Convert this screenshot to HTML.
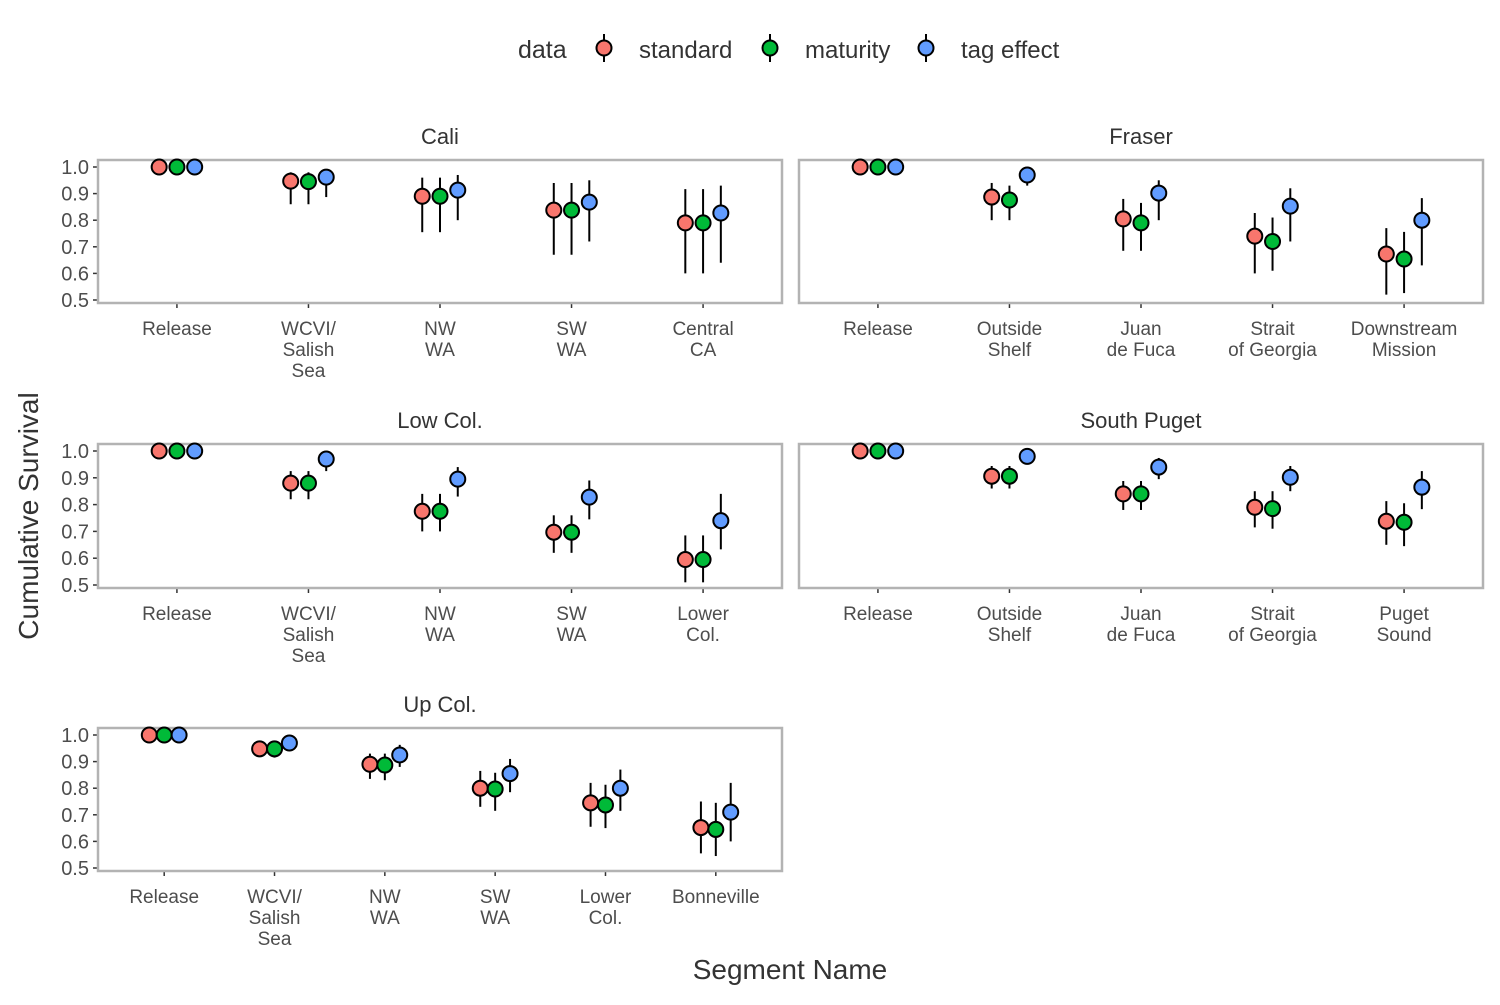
<!DOCTYPE html>
<html><head><meta charset="utf-8"><style>
body{margin:0;background:#fff;font-family:"Liberation Sans",sans-serif}
svg text{font-family:"Liberation Sans",sans-serif}
</style></head><body>
<svg id="chart" width="1500" height="1000" xmlns="http://www.w3.org/2000/svg"></svg>
<script>
const seriesNames = ["standard","maturity","tag effect"];
const seriesColors = ["#F8766D","#00BA38","#619CFF"];
const caliCats = ["Release","WCVI/\nSalish\nSea","NW\nWA","SW\nWA","Central\nCA"];
const caliVals = [[1,0.947,0.89,0.838,0.79],[1,0.945,0.89,0.838,0.79],[1,0.962,0.913,0.868,0.827]];
const caliLo = [[1,0.86,0.755,0.67,0.6],[1,0.86,0.755,0.67,0.6],[1,0.887,0.8,0.72,0.64]];
const caliHi = [[1,0.98,0.96,0.94,0.917],[1,0.98,0.96,0.94,0.917],[1,0.985,0.97,0.95,0.93]];
const fraserCats = ["Release","Outside\nShelf","Juan\nde Fuca","Strait\nof Georgia","Downstream\nMission"];
const fraserVals = [[1,0.887,0.805,0.74,0.673],[1,0.876,0.79,0.72,0.654],[1,0.97,0.902,0.853,0.8]];
const fraserLo = [[1,0.8,0.685,0.6,0.52],[1,0.8,0.685,0.61,0.526],[1,0.93,0.8,0.72,0.63]];
const fraserHi = [[1,0.94,0.88,0.827,0.77],[1,0.93,0.865,0.81,0.756],[1,0.996,0.95,0.92,0.883]];
const lowCats = ["Release","WCVI/\nSalish\nSea","NW\nWA","SW\nWA","Lower\nCol."];
const lowVals = [[1,0.88,0.775,0.697,0.595],[1,0.88,0.775,0.697,0.595],[1,0.97,0.895,0.828,0.74]];
const lowLo = [[1,0.82,0.7,0.62,0.51],[1,0.82,0.7,0.62,0.51],[1,0.925,0.83,0.745,0.633]];
const lowHi = [[1,0.925,0.84,0.76,0.685],[1,0.925,0.84,0.76,0.685],[1,0.996,0.94,0.89,0.84]];
const spCats = ["Release","Outside\nShelf","Juan\nde Fuca","Strait\nof Georgia","Puget\nSound"];
const spVals = [[1,0.906,0.84,0.79,0.738],[1,0.906,0.84,0.785,0.734],[1,0.98,0.94,0.902,0.865]];
const spLo = [[1,0.86,0.78,0.715,0.65],[1,0.86,0.78,0.71,0.645],[1,0.955,0.895,0.85,0.783]];
const spHi = [[1,0.944,0.888,0.85,0.813],[1,0.944,0.888,0.85,0.805],[1,1,0.974,0.944,0.925]];
const upCats = ["Release","WCVI/\nSalish\nSea","NW\nWA","SW\nWA","Lower\nCol.","Bonneville"];
const upVals = [[1,0.948,0.89,0.8,0.745,0.652],[1,0.948,0.887,0.797,0.737,0.645],[1,0.97,0.925,0.855,0.8,0.71]];
const upLo = [[1,0.918,0.835,0.73,0.655,0.555],[1,0.915,0.83,0.715,0.65,0.545],[1,0.948,0.88,0.785,0.715,0.6]];
const upHi = [[1,0.974,0.93,0.865,0.82,0.75],[1,0.974,0.93,0.858,0.813,0.745],[1,0.993,0.963,0.91,0.87,0.82]];
const yTicks = [0.5,0.6,0.7,0.8,0.9,1.0];

const NS="http://www.w3.org/2000/svg";
const svg=document.getElementById('chart');
function mk(tag,attrs,parent){const e=document.createElementNS(NS,tag);for(const k in attrs)e.setAttribute(k,attrs[k]);(parent||svg).appendChild(e);return e;}

function panel(name,title,cats,vals,lo,hi,x0,x1,y0,y1,showY){
  const g=mk('g',{});
  
  
  const t=mk('text',{x:(x0+x1)/2,y:y0-16,'text-anchor':'middle','font-size':22,fill:'#333'},g);
  t.textContent=title;
  
  
  const ytop=y0+7, ybot=y1-3;
  const ys=v=>ybot-(v-0.5)/0.5*(ybot-ytop);
  const n=cats.length, step=(x1-x0)/(n-1+1.2);
  const xs=i=>x0+step*(0.6+i);
  const dodge=step*0.135;
  if(showY){
    yTicks.forEach(v=>{
      mk('line',{x1:x0-5,x2:x0,y1:ys(v),y2:ys(v),stroke:'#333','stroke-width':1.5},g);
      const l=mk('text',{x:x0-9,y:ys(v)+7,'text-anchor':'end','font-size':20,fill:'#4d4d4d'},g);
      l.textContent=v.toFixed(1);
      
      
    });
  }
  cats.forEach((c,i)=>{
    mk('line',{x1:xs(i),x2:xs(i),y1:y1,y2:y1+5,stroke:'#333','stroke-width':1.5},g);
    c.split('\n').forEach((ln,j)=>{
      const l=mk('text',{x:xs(i),y:y1+32+j*21,'text-anchor':'middle','font-size':19,fill:'#4d4d4d'},g);
      l.textContent=ln;
      
      
    });
  });
  const r=mk('rect',{x:x0,y:y0,width:x1-x0,height:y1-y0,fill:'none',stroke:'#b3b3b3','stroke-width':2.5},g);
  
  
  for(let s=0;s<3;s++){
    for(let i=0;i<n;i++){
      const cx=xs(i)+(s-1)*dodge;
      const e=mk('line',{x1:cx,x2:cx,y1:ys(lo[s][i]),y2:ys(hi[s][i]),stroke:'#000','stroke-width':2},g);
      
      
      const p=mk('circle',{cx:cx,cy:ys(vals[s][i]),r:7.5,fill:seriesColors[s],stroke:'#000','stroke-width':2},g);
      
      
    }
  }
}
panel('cali','Cali',caliCats,caliVals,caliLo,caliHi,98,782,160,303,true);
panel('fraser','Fraser',fraserCats,fraserVals,fraserLo,fraserHi,799,1483,160,303,false);
panel('low-col','Low Col.',lowCats,lowVals,lowLo,lowHi,98,782,444,588,true);
panel('south-puget','South Puget',spCats,spVals,spLo,spHi,799,1483,444,588,false);
panel('up-col','Up Col.',upCats,upVals,upLo,upHi,98,782,728,871,true);

const lg=mk('g',{});


const lt=mk('text',{x:518,y:58,'font-size':25,fill:'#333'},lg);
lt.textContent='data';


const lx=[604,770,926];
seriesNames.forEach((s,i)=>{
  const e=mk('g',{},lg);
  
  
  mk('line',{x1:lx[i],x2:lx[i],y1:34,y2:62,stroke:'#000','stroke-width':2},e);
  mk('circle',{cx:lx[i],cy:48,r:7.5,fill:seriesColors[i],stroke:'#000','stroke-width':2},e);
  const t=mk('text',{x:lx[i]+35,y:58,'font-size':24,fill:'#333'},e);
  t.textContent=s;
});
const yt=mk('text',{x:38,y:516,'text-anchor':'middle','font-size':28,fill:'#333',transform:'rotate(-90 38 516)'});
yt.textContent='Cumulative Survival';


const xt=mk('text',{x:790,y:979,'text-anchor':'middle','font-size':28,fill:'#333'});
xt.textContent='Segment Name';


</script>
</body></html>
